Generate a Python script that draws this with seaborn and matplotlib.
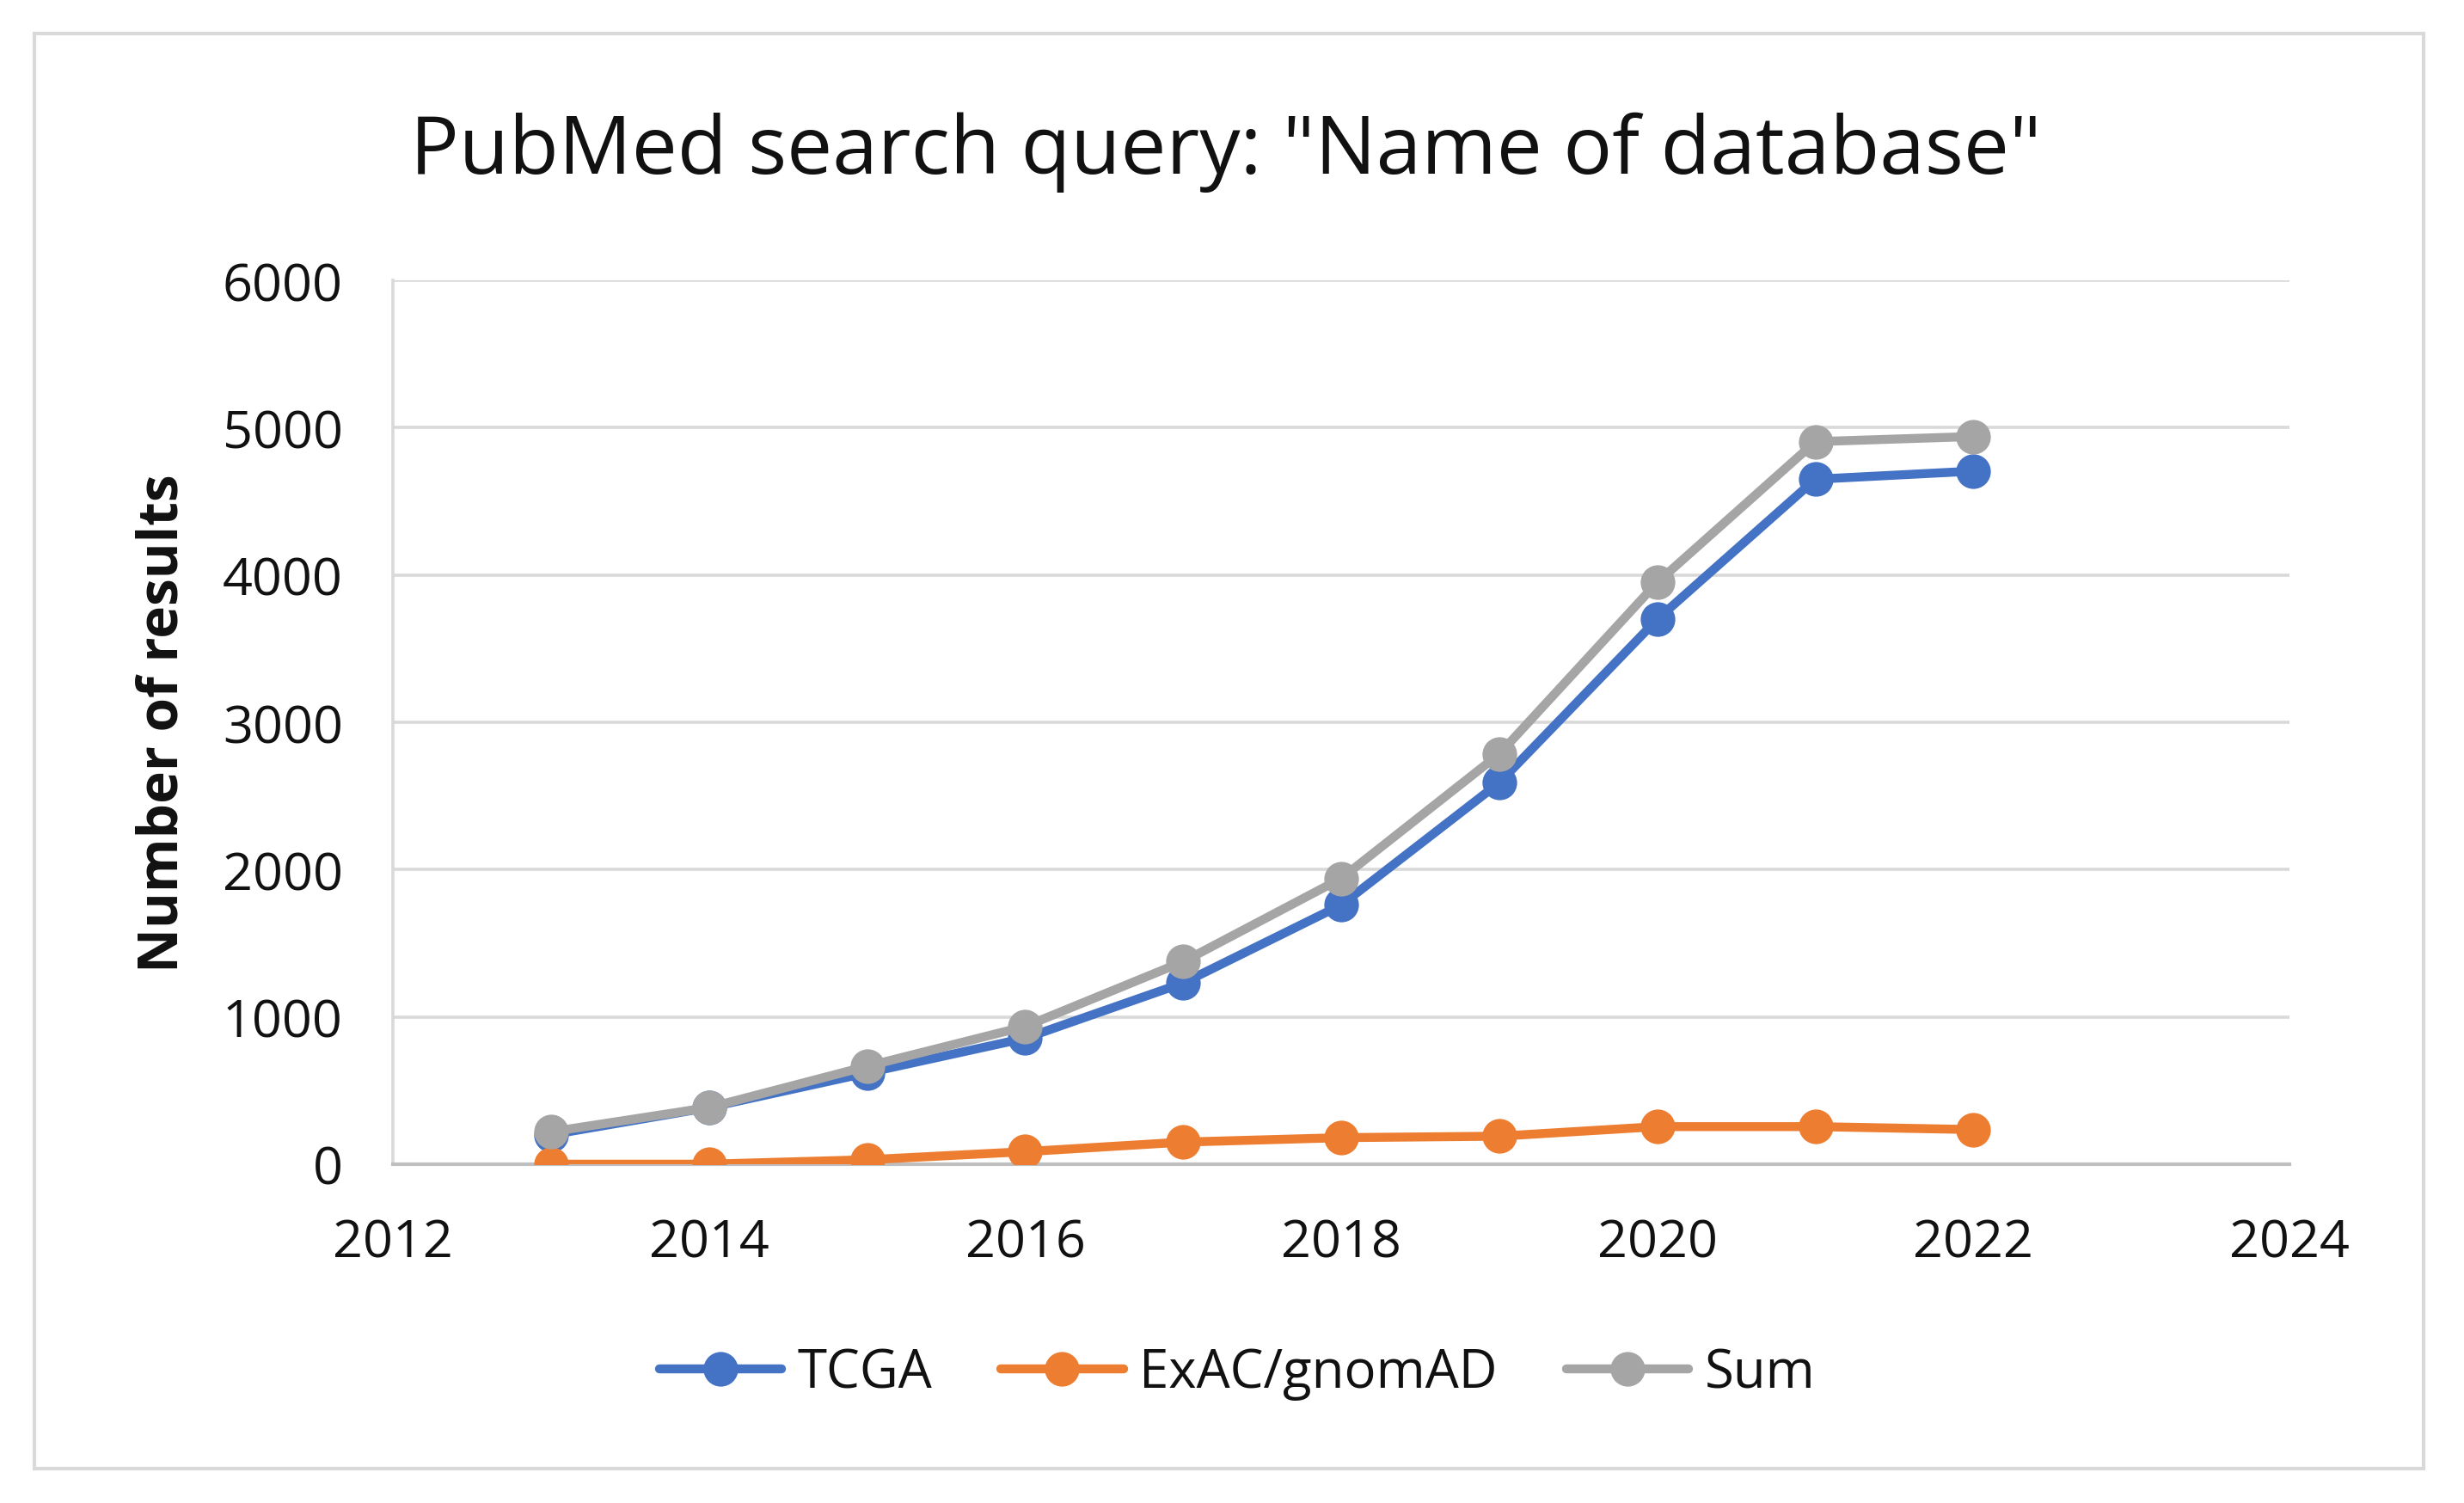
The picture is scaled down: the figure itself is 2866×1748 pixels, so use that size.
import matplotlib
matplotlib.use("Agg")
import matplotlib.pyplot as plt
import seaborn as sns
import pandas as pd
from matplotlib.patches import Rectangle

years = [2013, 2014, 2015, 2016, 2017, 2018, 2019, 2020, 2021, 2022]
tcga = [200, 385, 620, 855, 1230, 1760, 2590, 3700, 4650, 4705]
exac = [0, 0, 30, 85, 150, 180, 190, 255, 255, 235]
total = [220, 385, 665, 935, 1375, 1940, 2785, 3950, 4905, 4940]
series_names = ["TCGA", "ExAC/gnomAD", "Sum"]
colors = ["#4472C4", "#ED7D31", "#A5A5A5"]
x_ticks = [2012, 2014, 2016, 2018, 2020, 2022, 2024]
y_ticks = [0, 1000, 2000, 3000, 4000, 5000, 6000]

df = pd.concat([
    pd.DataFrame({"Year": years, "Value": vals, "Series": name})
    for name, vals in zip(series_names, [tcga, exac, total])
], ignore_index=True)

sns.set_style("white")
plt.rcParams['font.family'] = ['Open Sans', 'DejaVu Sans']
plt.rcParams['text.color'] = '#111111'

fig = plt.figure(figsize=(28.66, 17.49), dpi=100)
ax = fig.add_axes([0.1595, 0.2253, 0.9292 - 0.1595, 0.813 - 0.2253])

# outer border
fig.patches.append(Rectangle((40 / 2866, 40 / 1749), (2819 - 40) / 2866, (1709 - 40) / 1749,
                             transform=fig.transFigure, fill=False, edgecolor="#D9D9D9",
                             linewidth=3))

sns.lineplot(data=df, x="Year", y="Value", hue="Series", hue_order=series_names,
             palette=colors, marker="o", markersize=29, markeredgewidth=0,
             linewidth=7.5, ax=ax, legend=True, zorder=3)

ax.set_xlim(2012, 2024)
ax.set_ylim(0, 6000)
ax.set_xticks(x_ticks)
ax.set_yticks(y_ticks)
ax.set_xticklabels([str(t) for t in x_ticks])
ax.set_yticklabels([str(t) for t in y_ticks])
ax.tick_params(axis="both", labelsize=44, length=0, colors="#111111")
ax.tick_params(axis="x", pad=44)
ax.tick_params(axis="y", pad=42)
ax.yaxis.grid(True, color="#D9D9D9", linewidth=2.6)
ax.xaxis.grid(False)
for s in ["top", "right"]:
    ax.spines[s].set_visible(False)
ax.spines["left"].set_color("#D9D9D9")
ax.spines["left"].set_linewidth(2.6)
ax.spines["bottom"].set_color("#BFBFBF")
ax.spines["bottom"].set_linewidth(3)
ax.set_axisbelow(True)

ax.set_xlabel("")
ax.set_ylabel("Number of results", fontsize=46, fontweight="bold", labelpad=26,
              color="#111111")

fig.text((479 + 2373) / 2 / 2866, 1 - 97 / 958, 'PubMed search query: "Name of database"',
         fontsize=68, ha="center", va="center", color="#111111")

handles, labels = ax.get_legend_handles_labels()
ax.legend(handles, labels, loc="center", bbox_to_anchor=(1439 / 2866, 1 - 1598 / 1749),
          bbox_transform=fig.transFigure, ncol=3, frameon=False, fontsize=44.5,
          handlelength=2.3, handletextpad=0.3, columnspacing=1.3, markerscale=1)

fig.savefig("out.png", dpi=100, facecolor="white")
